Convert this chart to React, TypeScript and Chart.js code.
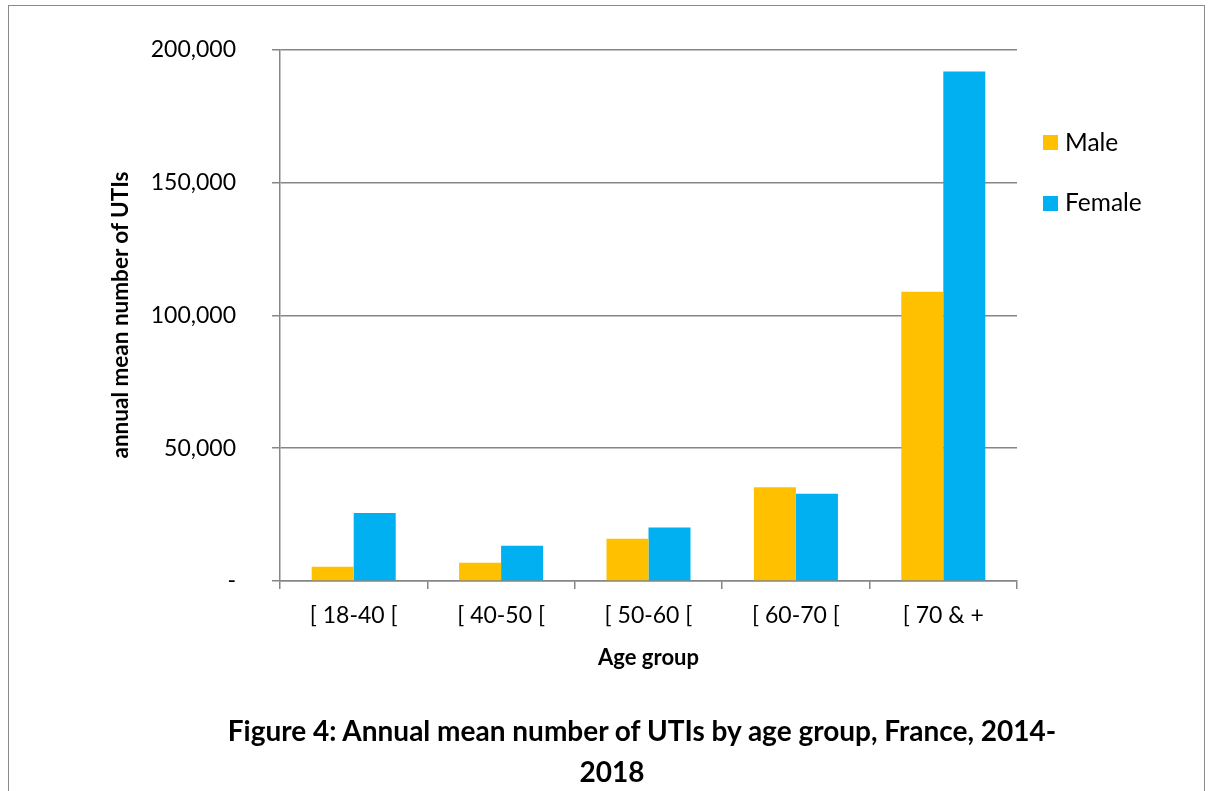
import React, { useEffect, useRef } from "react";
import { Chart, registerables } from "chart.js";

Chart.register(...registerables);

const categories = ["[ 18-40 [", "[ 40-50 [", "[ 50-60 [", "[ 60-70 [", "[ 70 & +"];
const maleValues = [5330, 6830, 15940, 35330, 108940];
const femaleValues = [25580, 13310, 20180, 32810, 191810];
const yTicks = [0, 50000, 100000, 150000, 200000];

const FONT = "Lato, 'Open Sans', sans-serif";
const GRID = "#868686";
const MALE = "#FFC000";
const FEMALE = "#00B0F0";

export default function App() {
  const ref = useRef<HTMLCanvasElement | null>(null);

  useEffect(() => {
    if (!ref.current) return;
    const chart = new Chart(ref.current, {
      type: "bar",
      data: {
        labels: categories,
        datasets: [
          { label: "Male", data: maleValues, backgroundColor: MALE, barPercentage: 1, categoryPercentage: 0.57 },
          { label: "Female", data: femaleValues, backgroundColor: FEMALE, barPercentage: 1, categoryPercentage: 0.57 },
        ],
      },
      options: {
        animation: false,
        responsive: false,
        layout: { padding: { left: 0, right: 191, top: 48, bottom: 110 } },
        plugins: { legend: { display: false }, title: { display: false }, tooltip: { enabled: false } },
        scales: {
          x: {
            grid: { offset: true, drawOnChartArea: false, drawTicks: true, tickLength: 8, color: GRID, lineWidth: 1.5 },
            border: { color: GRID, width: 1.5 },
            ticks: { color: "#000", font: { family: FONT, size: 23 }, padding: 13, maxRotation: 0 },
            title: { display: true, text: "Age group", color: "#000", font: { family: FONT, size: 22, weight: "bold" }, padding: { top: 0, bottom: 10 } },
            afterFit: (s: any) => { s.height = 100; },
          },
          y: {
            min: 0,
            max: 200000,
            afterBuildTicks: (s: any) => { s.ticks = yTicks.map((v) => ({ value: v })); },
            grid: { drawTicks: true, tickLength: 8, color: GRID, lineWidth: 1.5 },
            border: { color: GRID, width: 1.5 },
            ticks: {
              color: "#000",
              font: { family: FONT, size: 23 },
              padding: 36,
              callback: (v: any) => (Number(v) === 0 ? "-" : Number(v).toLocaleString("en-US")),
            },
            title: { display: false },
            afterFit: (s: any) => { s.width = 280; },
          },
        },
      },
    });
    return () => chart.destroy();
  }, []);

  return (
    <div style={{ position: "fixed", left: 0, top: 0, width: 1208, height: 791, background: "#fff", overflow: "hidden", fontFamily: FONT }}>
      <div style={{ position: "absolute", left: 8, top: 5, width: 1197, height: 820, border: "1.5px solid #8a8a8a", boxSizing: "border-box" }} />
      <canvas ref={ref} width={1208} height={791} style={{ position: "absolute", left: 0, top: 0 }} />
      <div
        style={{
          position: "absolute",
          left: 120 - 200,
          top: 315 - 15,
          width: 400,
          height: 30,
          lineHeight: "30px",
          textAlign: "center",
          fontSize: 22.5,
          fontWeight: "bold",
          color: "#000",
          transform: "rotate(-90deg)",
          transformOrigin: "50% 50%",
          whiteSpace: "nowrap",
        }}
      >
        annual mean number of UTIs
      </div>
      <div style={{ position: "absolute", left: 1043, top: 135, width: 15, height: 15, background: MALE }} />
      <div style={{ position: "absolute", left: 1065, top: 127, fontSize: 24.5, lineHeight: "30px", color: "#000" }}>Male</div>
      <div style={{ position: "absolute", left: 1043, top: 196, width: 15, height: 15, background: FEMALE }} />
      <div style={{ position: "absolute", left: 1065, top: 187, fontSize: 24.5, lineHeight: "30px", color: "#000" }}>Female</div>
      <div style={{ position: "absolute", left: 0, width: 1284, top: 713, textAlign: "center", fontSize: 28, fontWeight: "bold", lineHeight: "34px", color: "#000", whiteSpace: "nowrap" }}>
        Figure 4: Annual mean number of UTIs by age group, France, 2014-
      </div>
      <div style={{ position: "absolute", left: 0, width: 1224, top: 754, textAlign: "center", fontSize: 28, fontWeight: "bold", lineHeight: "34px", color: "#000" }}>
        2018
      </div>
    </div>
  );
}
